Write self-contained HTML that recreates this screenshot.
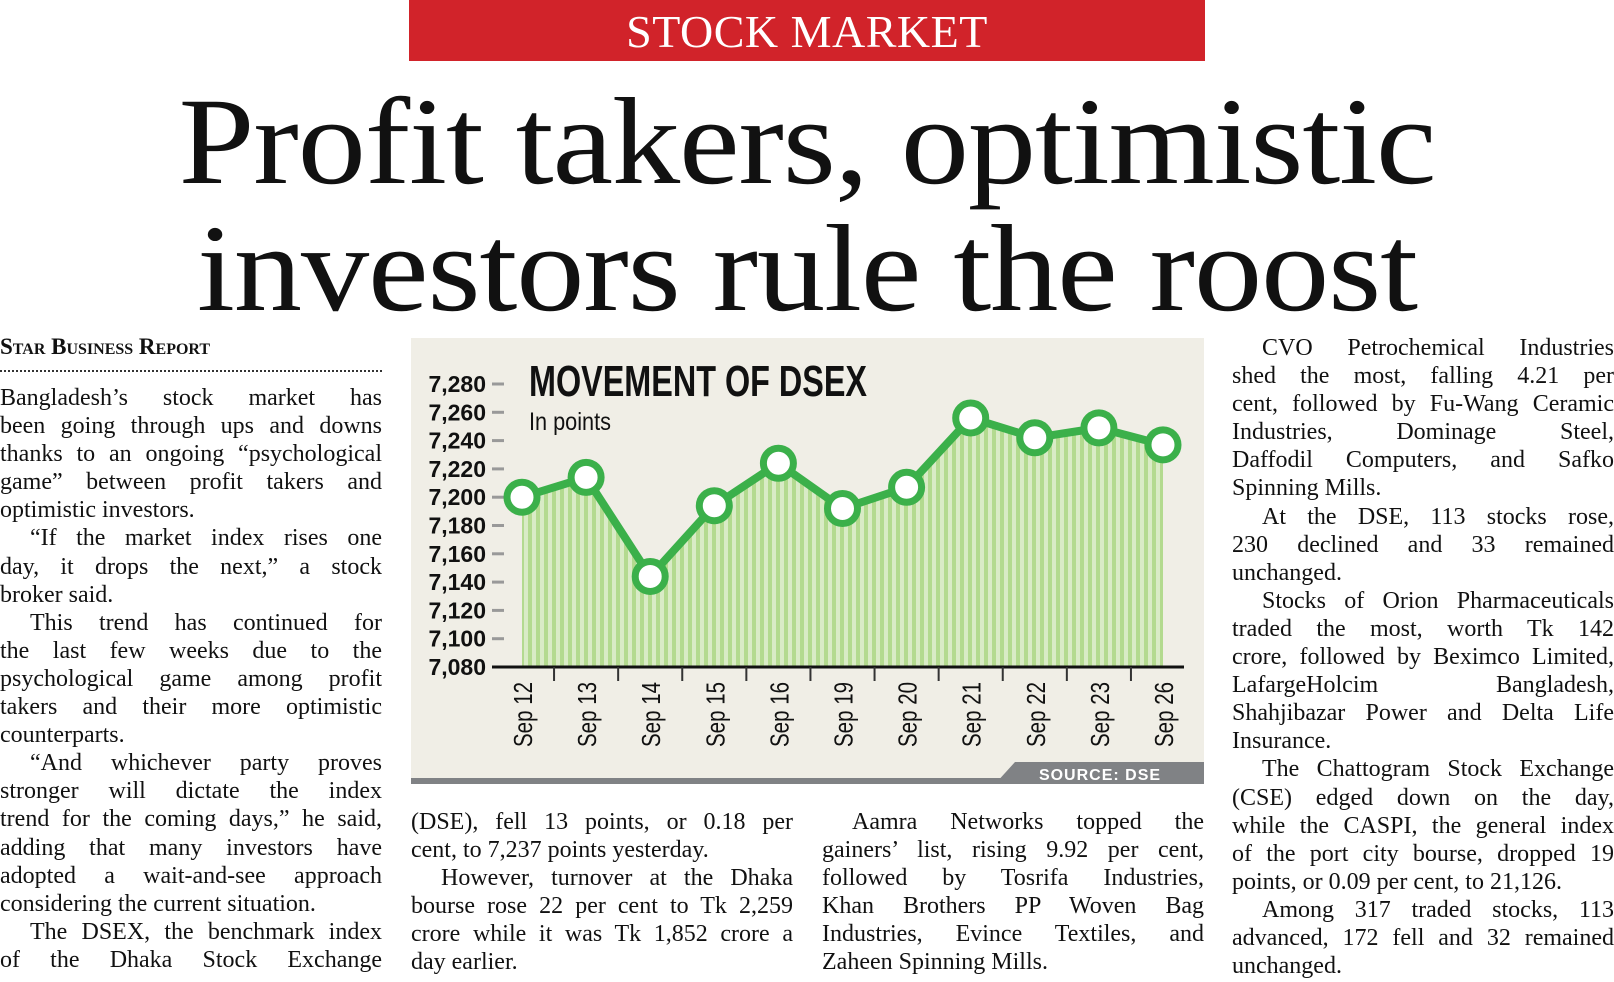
<!DOCTYPE html>
<html><head><meta charset="utf-8">
<style>
html,body{margin:0;padding:0;background:#fff;}
body{width:1614px;height:982px;position:relative;overflow:hidden;font-family:"Liberation Serif",serif;color:#111;}
.banner{position:absolute;left:409px;top:0;width:796px;height:61px;background:#d1232a;color:#fff;text-align:center;font-size:46px;line-height:64px;letter-spacing:0.5px;}
.head{position:absolute;left:0;width:1614px;text-align:center;font-size:124px;line-height:1;letter-spacing:-1px;transform:scaleX(1.1);transform-origin:807px 0;}
.col{position:absolute;width:382px;font-size:24px;}
.col .l{height:28.1px;line-height:28.1px;white-space:nowrap;text-align:justify;text-align-last:justify;overflow:visible;}
.col .e{text-align-last:left;}
.col .i{text-indent:30px;}
.byline{position:absolute;left:0;top:334px;font-size:23px;font-weight:bold;font-variant:small-caps;}
.dots{position:absolute;left:0;top:370px;width:382px;border-top:2px dotted #333;}
</style></head><body>
<div class="banner">STOCK MARKET</div>
<div class="head" style="top:80px">Profit takers, optimistic</div>
<div class="head" style="top:207px">investors rule the roost</div>
<div class="byline">Star Business Report</div>
<div class="dots"></div>

<div class="col" style="left:0;top:384px">
<div class="l">Bangladesh’s stock market has</div>
<div class="l">been going through ups and downs</div>
<div class="l">thanks to an ongoing “psychological</div>
<div class="l">game” between profit takers and</div>
<div class="l e">optimistic investors.</div>
<div class="l i">“If the market index rises one</div>
<div class="l">day, it drops the next,” a stock</div>
<div class="l e">broker said.</div>
<div class="l i">This trend has continued for</div>
<div class="l">the last few weeks due to the</div>
<div class="l">psychological game among profit</div>
<div class="l">takers and their more optimistic</div>
<div class="l e">counterparts.</div>
<div class="l i">“And whichever party proves</div>
<div class="l">stronger will dictate the index</div>
<div class="l">trend for the coming days,” he said,</div>
<div class="l">adding that many investors have</div>
<div class="l">adopted a wait-and-see approach</div>
<div class="l e">considering the current situation.</div>
<div class="l i">The DSEX, the benchmark index</div>
<div class="l">of the Dhaka Stock Exchange</div>
</div>

<div class="col" style="left:411px;top:808px">
<div class="l">(DSE), fell 13 points, or 0.18 per</div>
<div class="l e">cent, to 7,237 points yesterday.</div>
<div class="l i">However, turnover at the Dhaka</div>
<div class="l">bourse rose 22 per cent to Tk 2,259</div>
<div class="l">crore while it was Tk 1,852 crore a</div>
<div class="l e">day earlier.</div>
</div>

<div class="col" style="left:822px;top:808px">
<div class="l i">Aamra Networks topped the</div>
<div class="l">gainers’ list, rising 9.92 per cent,</div>
<div class="l">followed by Tosrifa Industries,</div>
<div class="l">Khan Brothers PP Woven Bag</div>
<div class="l">Industries, Evince Textiles, and</div>
<div class="l e">Zaheen Spinning Mills.</div>
</div>

<div class="col" style="left:1232px;top:334px">
<div class="l i">CVO Petrochemical Industries</div>
<div class="l">shed the most, falling 4.21 per</div>
<div class="l">cent, followed by Fu-Wang Ceramic</div>
<div class="l">Industries, Dominage Steel,</div>
<div class="l">Daffodil Computers, and Safko</div>
<div class="l e">Spinning Mills.</div>
<div class="l i">At the DSE, 113 stocks rose,</div>
<div class="l">230 declined and 33 remained</div>
<div class="l e">unchanged.</div>
<div class="l i">Stocks of Orion Pharmaceuticals</div>
<div class="l">traded the most, worth Tk 142</div>
<div class="l">crore, followed by Beximco Limited,</div>
<div class="l">LafargeHolcim Bangladesh,</div>
<div class="l">Shahjibazar Power and Delta Life</div>
<div class="l e">Insurance.</div>
<div class="l i">The Chattogram Stock Exchange</div>
<div class="l">(CSE) edged down on the day,</div>
<div class="l">while the CASPI, the general index</div>
<div class="l">of the port city bourse, dropped 19</div>
<div class="l e">points, or 0.09 per cent, to 21,126.</div>
<div class="l i">Among 317 traded stocks, 113</div>
<div class="l">advanced, 172 fell and 32 remained</div>
<div class="l e">unchanged.</div>
</div>

<svg id="chart" style="position:absolute;left:0;top:0" width="1614" height="982">
<defs>
<pattern id="stripes" width="8" height="10" patternUnits="userSpaceOnUse">
<rect width="8" height="10" fill="#d9ebc6"/><rect width="4" height="10" fill="#b3da8f"/>
</pattern>
</defs>
<rect x="411" y="338" width="793" height="446" fill="#f0eee6"/>
<g id="plot"></g>
</svg>
<script>
const categories=["Sep 12","Sep 13","Sep 14","Sep 15","Sep 16","Sep 19","Sep 20","Sep 21","Sep 22","Sep 23","Sep 26"];
const values=[7200,7214,7144,7194,7224,7192,7207,7256,7242,7249,7237];
const yTicks=[7080,7100,7120,7140,7160,7180,7200,7220,7240,7260,7280];
const yTickLabels=["7,080","7,100","7,120","7,140","7,160","7,180","7,200","7,220","7,240","7,260","7,280"];
const NS="http://www.w3.org/2000/svg";
const g=document.getElementById('plot');
const x0=522,x1=1163,yb=667,yt=384,vmin=7080,vmax=7280;
function xs(i){return x0+(x1-x0)*i/(categories.length-1);}
function ys(v){return yb-(v-vmin)/(vmax-vmin)*(yb-yt);}
function mk(t,a,p){const e=document.createElementNS(NS,t);for(const k in a)e.setAttribute(k,a[k]);(p||g).appendChild(e);return e;}
let d=`M${xs(0)},${yb}`;values.forEach((v,i)=>d+=` L${xs(i)},${ys(v)}`);d+=` L${xs(values.length-1)},${yb} Z`;
const area=mk('path',{d:d,fill:'url(#stripes)'});


yTicks.forEach((t,i)=>{
 const tk=mk('line',{x1:492,x2:504,y1:ys(t),y2:ys(t),stroke:'#999','stroke-width':3});
 
 
 const tx=mk('text',{x:486,y:ys(t)+8,'text-anchor':'end','font-family':'Liberation Sans Narrow, Liberation Sans, sans-serif','font-weight':'bold','font-size':23,fill:'#111'});
 tx.textContent=yTickLabels[i];
 
 
});
const ax=mk('line',{x1:492,x2:1184,y1:yb,y2:yb,stroke:'#111','stroke-width':3});


categories.forEach((c,i)=>{
 if(i>0){const tk=mk('line',{x1:(xs(i)+xs(i-1))/2,x2:(xs(i)+xs(i-1))/2,y1:yb,y2:yb+14,stroke:'#333','stroke-width':2});
 
 }
 const tx=mk('text',{x:0,y:0,transform:`translate(${xs(i)+10},${yb+80}) rotate(-90)`,'text-anchor':'start','font-family':'Liberation Sans Narrow, Liberation Sans, sans-serif','font-size':26,fill:'#111',textLength:65,lengthAdjust:'spacingAndGlyphs'});
 tx.textContent=c;
 
 
});
const line=mk('polyline',{points:values.map((v,i)=>xs(i)+','+ys(v)).join(' '),fill:'none',stroke:'#3bb04a','stroke-width':8,'stroke-linejoin':'round'});


values.forEach((v,i)=>{
 const c=mk('circle',{cx:xs(i),cy:ys(v),r:15,fill:'#fff',stroke:'#3bb04a','stroke-width':7});
 
 
});
const t1=mk('text',{x:529,y:396,'font-family':'Liberation Sans Narrow, Liberation Sans, sans-serif','font-weight':'bold','font-size':44,fill:'#111',textLength:338,lengthAdjust:'spacingAndGlyphs'});
t1.textContent='MOVEMENT OF DSEX';


const t2=mk('text',{x:529,y:430,'font-family':'Liberation Sans Narrow, Liberation Sans, sans-serif','font-size':25,fill:'#111',textLength:82,lengthAdjust:'spacingAndGlyphs'});
t2.textContent='In points';


const sb=mk('path',{d:'M995,784 L1015,762 L1204,762 L1204,784 Z',fill:'#808285'});


const bl=mk('rect',{x:411,y:778,width:793,height:6,fill:'#808285'});


const st=mk('text',{x:1100,y:780,'text-anchor':'middle','font-family':'Liberation Sans, sans-serif','font-weight':'bold','font-size':16,fill:'#fff','letter-spacing':1});
st.textContent='SOURCE: DSE';


</script>
</body></html>
